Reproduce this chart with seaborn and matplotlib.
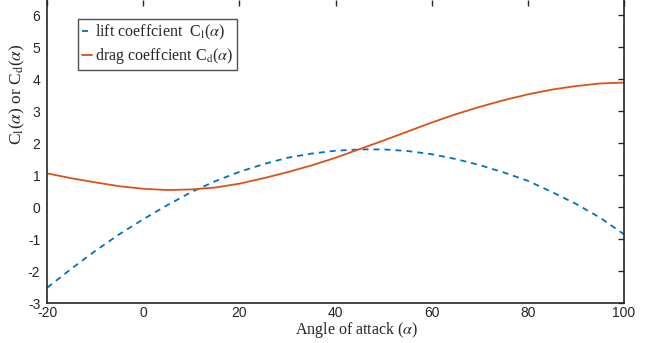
import pandas as pd
import matplotlib
matplotlib.use("Agg")
import matplotlib.pyplot as plt
import seaborn as sns

# values, every 5 degrees
alpha = [-20, -15, -10, -5, 0, 5, 10, 15, 20, 25, 30, 35, 40, 45, 50,
         55, 60, 65, 70, 75, 80, 85, 90, 95, 100]
lift = [-2.52, -1.93, -1.37, -0.85, -0.38, 0.06, 0.47, 0.81, 1.10, 1.34, 1.54,
        1.67, 1.76, 1.80, 1.80, 1.75, 1.65, 1.50, 1.31, 1.08, 0.82, 0.47, 0.10,
        -0.33, -0.85]
drag = [1.05, 0.90, 0.77, 0.65, 0.57, 0.53, 0.55, 0.61, 0.73, 0.90, 1.09,
        1.30, 1.54, 1.81, 2.08, 2.36, 2.64, 2.90, 3.13, 3.34, 3.52, 3.67, 3.78,
        3.86, 3.89]

lift_name = r"lift coeffcient  C$_{\mathrm{l}}$($\alpha$)"
drag_name = r"drag coeffcient C$_{\mathrm{d}}$($\alpha$)"

df = pd.DataFrame({
    "alpha": alpha + alpha,
    "value": lift + drag,
    "series": [lift_name] * len(alpha) + [drag_name] * len(alpha),
})

sns.set_style("white")
plt.rcParams['font.family'] = ['Liberation Serif', 'DejaVu Serif']
plt.rcParams['mathtext.fontset'] = 'stix'
plt.rcParams['lines.scale_dashes'] = False
plt.rcParams['axes.unicode_minus'] = False

fig = plt.figure(figsize=(6.45, 3.43), dpi=100)
ax = fig.add_axes([0.0733, 0.1166, 0.894, 0.8834])

sns.lineplot(data=df, x="alpha", y="value", hue="series", style="series",
             palette={lift_name: "#0072BD", drag_name: "#D95319"},
             dashes={lift_name: (4.3, 3.6), drag_name: ""},
             linewidth=1.3, ax=ax, legend=False)

ax.set_xlim(-20, 100)
ax.set_ylim(-3, 6.47)
ax.set_xticks([-20, 0, 20, 40, 60, 80, 100])
ax.set_yticks(range(-3, 7))

tick_col = "#262626"
for s in ["left", "bottom", "right"]:
    ax.spines[s].set_color(tick_col)
    ax.spines[s].set_linewidth(1.2)
ax.spines["top"].set_visible(False)
ax.tick_params(direction="in", length=4, width=1.0, color=tick_col,
               top=True, right=True, labelcolor=tick_col, labelsize=10)
ax.tick_params(axis="y", pad=5)
ax.tick_params(axis="x", pad=2)
for lbl in ax.get_xticklabels() + ax.get_yticklabels():
    lbl.set_fontfamily("Liberation Sans")

ax.set_xlabel(r"Angle of attack ($\alpha$)", fontsize=11.5, color=tick_col)
ax.set_ylabel(r"C$_{\mathrm{l}}$($\alpha$) or C$_{\mathrm{d}}$($\alpha$)",
              fontsize=12.5, color=tick_col)
ax.xaxis.set_label_coords(0.537, -0.056)
ax.yaxis.set_label_coords(-0.035, 0.69)

handles = [plt.Line2D([], [], color="#0072BD", lw=1.3, dashes=(4.3, 3.6)),
           plt.Line2D([], [], color="#D95319", lw=1.3)]
leg = ax.legend(handles, [lift_name, drag_name], loc="upper left",
                bbox_to_anchor=(0.0536, 0.9366), fontsize=11.5,
                handlelength=0.6, handletextpad=0.2, borderpad=0.25,
                borderaxespad=0, labelspacing=0.25, fancybox=False,
                frameon=True, edgecolor=tick_col)
leg.get_frame().set_linewidth(1.0)

fig.savefig("out.png", dpi=100)
